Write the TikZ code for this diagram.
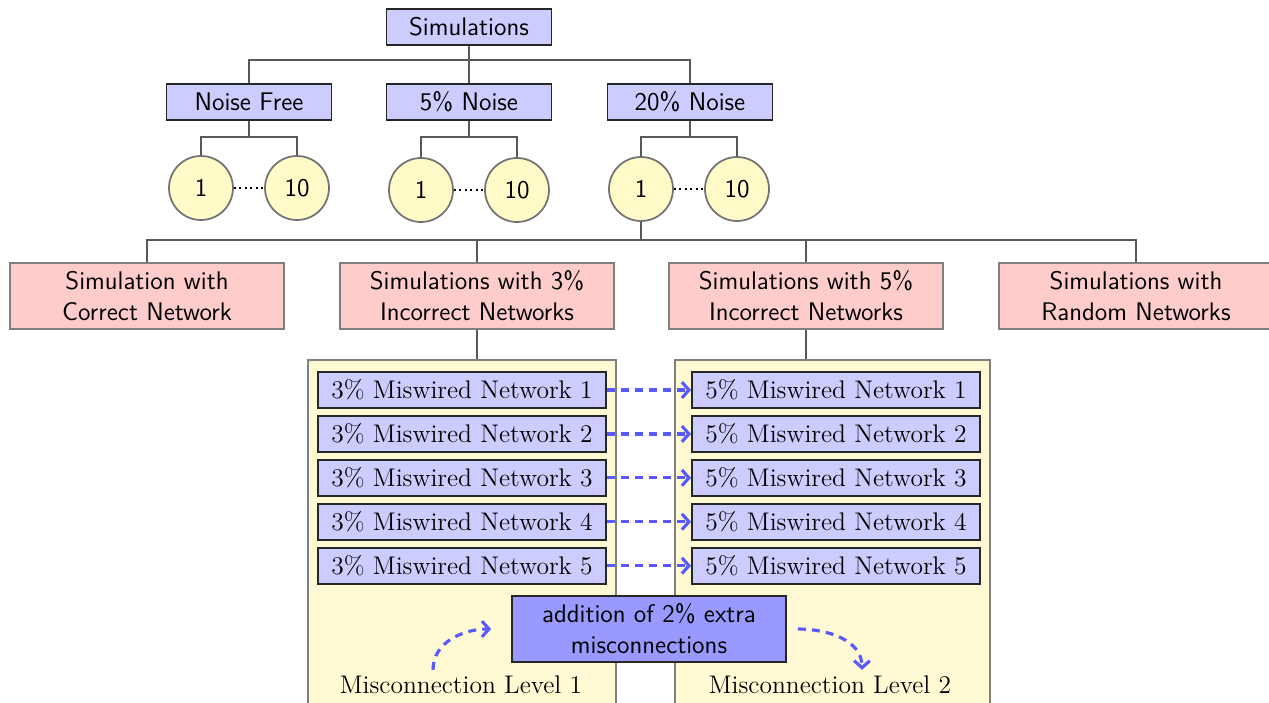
\documentclass[tikz,border=0pt]{standalone}
\usepackage{tikz}
\usetikzlibrary{arrows.meta, positioning}
\definecolor{cream}{RGB}{255,250,212}
\definecolor{runfill}{RGB}{255,250,200}
\tikzset{
    treediagram/.style={x=0.02cm, y=-0.02cm, font=\fontsize{14.5}{17.6}\selectfont\sffamily},
    level/.style={draw=black!85, line width=1.1pt, fill=blue!20, minimum width=3.3cm, minimum height=0.72cm},
    run/.style={circle, draw=black!55, line width=1pt, fill=runfill, minimum size=1.28cm, inner sep=0pt},
    model/.style={draw=black!50, line width=1.1pt, fill=red!20, minimum width=5.48cm, minimum height=1.32cm, align=center},
    panel/.style={draw=black!50, line width=0.8pt, fill=cream, minimum height=7.2cm},
    miswired/.style={draw=black!85, line width=1.1pt, fill=blue!20, minimum width=5.76cm, minimum height=0.72cm, inner ysep=2pt, font=\fontsize{14.5}{17.6}\selectfont\rmfamily},
    extra/.style={draw=black!85, line width=1.1pt, fill=blue!40, minimum width=5.48cm, minimum height=1.32cm, align=center},
    tag/.style={font=\fontsize{14.5}{17.6}\selectfont\rmfamily},
    link/.style={draw=black!65, line width=1.2pt},
    dots/.style={line width=1.1pt, dotted},
    % dashed blue arrows between the two misconnection levels
    flow/.style={blue!65, line width=1.8pt, dash pattern=on 4.5pt off 3.5pt, -{Straight Barb[length=4pt, width=9pt]}},
}
\begin{document}
\begin{tikzpicture}[treediagram]
    \useasboundingbox (0,0) rectangle (1269,703);
    \clip (0,0) rectangle (1269,703);

    \node[level] (sim) at (469,27)  {Simulations};
    \node[level] (nf)  at (249,102) {Noise Free};
    \node[level] (n5)  at (469,102) {5\% Noise};
    \node[level] (n20) at (690,102) {20\% Noise};

    \node[run] (nf1)  at (201,188) {1};
    \node[run] (nf10) at (297,188) {10};
    \node[run] (n51)  at (421,190) {1};
    \node[run] (n510) at (517,190) {10};
    \node[run] (n201)  at (641,189) {1};
    \node[run] (n2010) at (737,189) {10};

    \node[model] (correct) at (147,296)  {Simulation with\\Correct Network};
    \node[model] (inc3)    at (477,296)  {Simulations with 3\%\\Incorrect Networks};
    \node[model] (inc5)    at (806,296)  {Simulations with 5\%\\Incorrect Networks};
    \node[model] (rand)    at (1136,296) {Simulations with\\Random Networks};

    \node[panel, minimum width=6.16cm] (lp) at (462,540)   {};
    \node[panel, minimum width=6.3cm]  (rp) at (832.5,540) {};

    \node[miswired] (l1) at (462,390)        {3\% Miswired Network 1};
    \node[miswired, below=0.12cm of l1] (l2) {3\% Miswired Network 2};
    \node[miswired, below=0.12cm of l2] (l3) {3\% Miswired Network 3};
    \node[miswired, below=0.12cm of l3] (l4) {3\% Miswired Network 4};
    \node[miswired, below=0.12cm of l4] (l5) {3\% Miswired Network 5};

    \node[miswired] (r1) at (836,390)        {5\% Miswired Network 1};
    \node[miswired, below=0.12cm of r1] (r2) {5\% Miswired Network 2};
    \node[miswired, below=0.12cm of r2] (r3) {5\% Miswired Network 3};
    \node[miswired, below=0.12cm of r3] (r4) {5\% Miswired Network 4};
    \node[miswired, below=0.12cm of r4] (r5) {5\% Miswired Network 5};

    \node[extra] (add) at (649,629) {addition of 2\% extra\\misconnections};
    \node[tag] (lvl1) at (461,685) {Misconnection Level 1};
    \node[tag] (lvl2) at (830,685) {Misconnection Level 2};

    % tree
    \coordinate (j0) at (469,60);
    \draw[link] (sim) -- (j0);
    \draw[link] (nf) |- (j0) -| (n20);
    \draw[link] (n5) -- (j0);

    \coordinate (jnf) at (249,137);
    \coordinate (jn5) at (469,137);
    \coordinate (jn20) at (690,137);
    \draw[link] (nf) -- (jnf);
    \draw[link] (nf1) |- (jnf) -| (nf10);
    \draw[link] (n5) -- (jn5);
    \draw[link] (n51) |- (jn5) -| (n510);
    \draw[link] (n20) -- (jn20);
    \draw[link] (n201) |- (jn20) -| (n2010);

    \draw[dots] (nf1) -- (nf10);
    \draw[dots] (n51) -- (n510);
    \draw[dots] (n201) -- (n2010);

    \coordinate (jm) at (641,240);
    \draw[link] (n201) -- (jm);
    \draw[link] (correct) |- (jm) -| (rand);
    \draw[link] (inc3) -- (inc3 |- jm);
    \draw[link] (inc5) -- (inc5 |- jm);

    \draw[link] (inc3) -- (inc3 |- lp.north);
    \draw[link] (inc5) -- (inc5 |- rp.north);

    % level 1 -> level 2
    \draw[flow] (l1) -- (r1);
    \draw[flow] (l2) -- (r2);
    \draw[flow] (l3) -- (r3);
    \draw[flow] (l4) -- (r4);
    \draw[flow] (l5) -- (r5);

    \draw[flow] ([xshift=-0.56cm]lvl1.north) to[out=90, in=180] ([xshift=-0.4cm]add.west);
    \draw[flow] ([xshift=0.22cm]add.east) to[out=0, in=90] ([xshift=0.64cm]lvl2.north);
\end{tikzpicture}
\end{document}
